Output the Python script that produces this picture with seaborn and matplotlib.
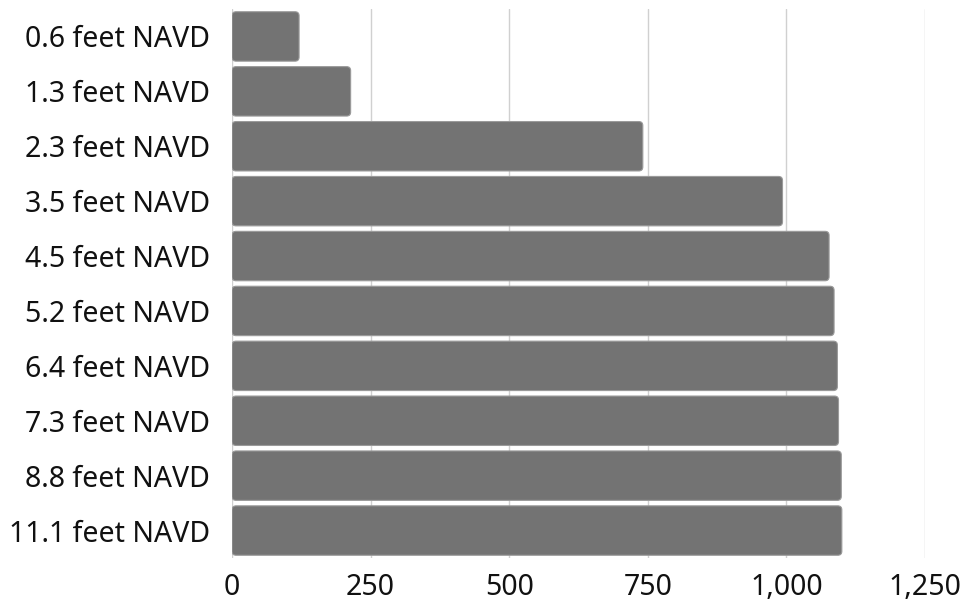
"""Horizontal bar chart of counts by elevation (feet NAVD)."""

import matplotlib

matplotlib.use("Agg")
import matplotlib.pyplot as plt
import pandas as pd
import seaborn as sns
from matplotlib.patches import FancyBboxPatch

# values
levels = [
    "0.6 feet NAVD",
    "1.3 feet NAVD",
    "2.3 feet NAVD",
    "3.5 feet NAVD",
    "4.5 feet NAVD",
    "5.2 feet NAVD",
    "6.4 feet NAVD",
    "7.3 feet NAVD",
    "8.8 feet NAVD",
    "11.1 feet NAVD",
]
counts = [121, 214, 741, 993, 1077, 1086, 1092, 1094, 1099, 1100]
x_ticks = [0, 250, 500, 750, 1000, 1250]

df = pd.DataFrame({"level": levels, "count": counts})

sns.set_theme(style="white")
plt.rcParams["font.family"] = ["Noto Sans", "DejaVu Sans"]

fig = plt.figure(figsize=(9.66, 6.03), dpi=100)
ax = fig.add_axes([232 / 966, 1 - 558 / 603, (925 - 232) / 966, (558 - 9) / 603])

sns.barplot(data=df, x="count", y="level", color="#737373", width=0.9,
            saturation=1, ax=ax, zorder=2)

# swap the plain bars for slightly rounded ones
ax.set_xlim(0, 1250)
ax.set_ylim(len(levels) - 0.5, -0.5)
px_x = (925 - 232) / 1250
px_y = (558 - 9) / len(levels)
r = 4
for p in list(ax.patches):
    x0, y0 = p.get_x(), p.get_y()
    w, h = p.get_width(), p.get_height()
    p.remove()
    fb = FancyBboxPatch((x0, y0), w, h,
                        boxstyle=f"round,pad=0,rounding_size={r / px_x}",
                        mutation_aspect=px_x / px_y,
                        facecolor="#737373", edgecolor="#9a9a9a",
                        linewidth=0.8, zorder=2)
    ax.add_patch(fb)

ax.set_xticks(x_ticks)
ax.set_xticklabels([f"{t:,}" for t in x_ticks])
ax.xaxis.grid(True, color="#d0d0d0", linewidth=1)
ax.set_axisbelow(True)
for s in ax.spines.values():
    s.set_visible(False)
ax.set_xlabel("")
ax.set_ylabel("")
ax.tick_params(axis="both", length=0, labelsize=20.5, colors="#111111")
ax.tick_params(axis="x", pad=11)
ax.tick_params(axis="y", pad=16)

fig.savefig("out.png", dpi=100)
